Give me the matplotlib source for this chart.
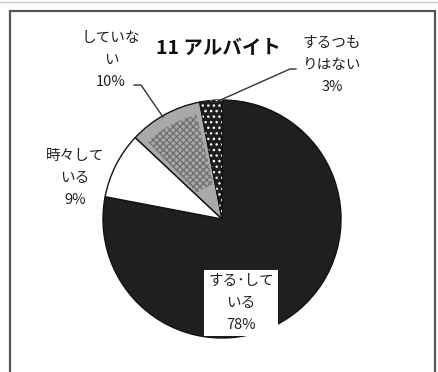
import matplotlib
matplotlib.use('Agg')
import matplotlib.pyplot as plt
from matplotlib.patches import Wedge, Rectangle

plt.rcParams['font.family'] = ['Noto Sans CJK JP', 'DejaVu Sans']

# data
title = '11 アルバイト'
labels = ['する･して\nいる', '時々して\nいる', 'していな\nい', 'するつも\nりはない']
values = [78, 9, 10, 3]
colors = ['#1e201f', '#ffffff', '#a9a9a9', '#1e201f']

fig = plt.figure(figsize=(4.39, 3.72), dpi=100)
ax = fig.add_axes([0, 0, 1, 1])

# frame like the scanned page
ax.add_patch(Rectangle((10, -5), 425, 366, fill=False, ec='#555555', lw=1.6))
ax.plot([0, 439], [370, 370], color='#c8c8c8', lw=1)

wedges, _ = ax.pie(values, colors=colors, startangle=90, counterclock=False,
                   center=(222, 153), radius=119, frame=True,
                   wedgeprops=dict(edgecolor='#111111', linewidth=1))
ax.set_xlim(0, 439)
ax.set_ylim(0, 372)
ax.set_aspect('equal')
ax.axis('off')

# checker on gray slice
g = wedges[2]
ax.add_patch(Wedge(g.center, g.r * 0.9, g.theta1 + 3, g.theta2 - 3, width=g.r * 0.6,
                   facecolor='none', edgecolor='#707070', hatch='xxxxx', lw=0))
# white dots on the small dark slice
d = wedges[3]
ax.add_patch(Wedge(d.center, d.r, d.theta1, d.theta2, facecolor='none',
                   edgecolor='white', hatch='...', lw=0))

fs = 10.5
ls = 1.7
ax.text(241, 69, labels[0] + '\n' + f'{values[0]}%', ha='center', va='center',
        fontsize=fs, linespacing=ls, color='#222222',
        bbox=dict(boxstyle='square,pad=0.3', fc='white', ec='none'))
ax.text(75, 194, labels[1] + '\n' + f'{values[1]}%', ha='center', va='center',
        fontsize=fs, linespacing=ls, color='#222222')
ax.text(111, 312, labels[2] + '\n' + f'{values[2]}%', ha='center', va='center',
        fontsize=fs, linespacing=ls, color='#222222')
ax.text(332, 307, labels[3] + '\n' + f'{values[3]}%', ha='center', va='center',
        fontsize=fs, linespacing=ls, color='#222222')

# leader lines
ax.plot([134, 141, 163], [287, 287, 255], color='#333333', lw=1)
ax.plot([216, 290, 296], [270, 303, 303], color='#333333', lw=1)

ax.text(218, 324, title, ha='center', va='center', fontsize=14, fontweight='bold',
        color='#111111')

fig.savefig('out.png', dpi=100)
